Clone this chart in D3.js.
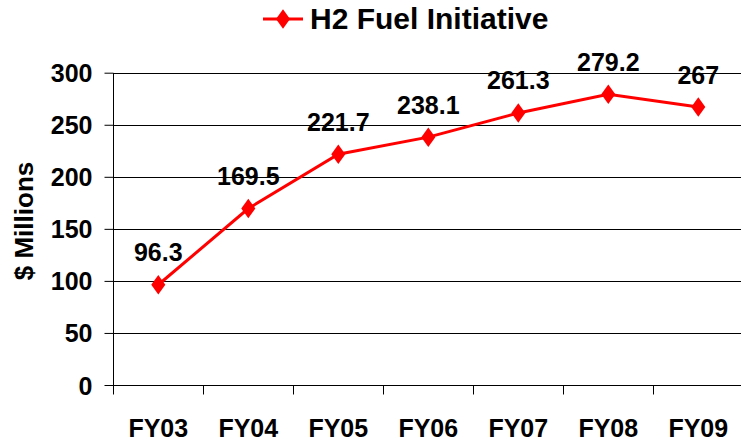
<!DOCTYPE html>
<html>
<head>
<meta charset="utf-8">
<script src="https://cdn.jsdelivr.net/npm/d3@7"></script>
<style>
html,body{margin:0;padding:0;background:#fff;}
text{font-family:"Liberation Sans",Arial,sans-serif;font-weight:bold;fill:#000;}
</style>
</head>
<body>
<svg id="chart" width="741" height="441"></svg>
<script>
const categories = ["FY03","FY04","FY05","FY06","FY07","FY08","FY09"];
const values = [96.3,169.5,221.7,238.1,261.3,279.2,267];
const valueLabels = ["96.3","169.5","221.7","238.1","261.3","279.2","267"];
const yTicks = [0,50,100,150,200,250,300];
const seriesName = "H2 Fuel Initiative";
const yTitle = "$ Millions";

const svg = d3.select("#chart");
const pL = 113.3, pR = 743.3, pT = 72.7, pB = 385;
const x = d3.scaleBand().domain(categories).range([pL, pR]).padding(0);
const y = d3.scaleLinear().domain([0,300]).range([pB, pT]);

// gridlines
svg.append("g").selectAll("line").data(yTicks).join("line")
  .attr("x1", pL).attr("x2", 741)
  .attr("y1", d => Math.round(y(d)) + 0.5).attr("y2", d => Math.round(y(d)) + 0.5)
  .attr("stroke", "#000").attr("stroke-width", 1);

// y axis
const yAxis = d3.axisLeft(y).tickValues(yTicks).tickSize(9).tickPadding(12);
const gy = svg.append("g").attr("transform", `translate(${Math.round(pL)+0.5},0)`).call(yAxis);
gy.select(".domain").attr("d", `M0,${Math.round(pT)}V${pB+9}`).attr("stroke","#000");
gy.selectAll(".tick line").attr("stroke","#000");
gy.selectAll(".tick text").style("font-size","25px").attr("dy","0.36em").attr("x",-21);

// x axis
const gx = svg.append("g").attr("transform", `translate(0,${pB+0.5})`);
gx.append("line").attr("x1", pL).attr("x2", 741).attr("y1",0).attr("y2",0).attr("stroke","#000");
const tickPos = categories.map(c => x(c)).concat([pR]);
gx.selectAll("line.t").data(tickPos).join("line").attr("class","t")
  .attr("x1", d=>Math.round(d)+0.5).attr("x2", d=>Math.round(d)+0.5)
  .attr("y1",0).attr("y2",9).attr("stroke","#000");
gx.selectAll("text").data(categories).join("text")
  .attr("x", d => x(d) + x.bandwidth()/2).attr("y", 51)
  .attr("text-anchor","middle").style("font-size","25px").text(d=>d);

// y title
svg.append("text").attr("transform","translate(33,221) rotate(-90)")
  .attr("text-anchor","middle").style("font-size","26px").text(yTitle);

// line
const pts = categories.map((c,i)=>({c, v: values[i], l: valueLabels[i]}));
const line = d3.line().x(d => x(d.c) + x.bandwidth()/2).y(d => y(d.v));
svg.append("path").datum(pts).attr("d", line)
  .attr("fill","none").attr("stroke","#ff0000").attr("stroke-width",3);

const diamond = d3.symbol().type(d3.symbolDiamond).size(110);
svg.selectAll("path.m").data(pts).join("path").attr("class","m")
  .attr("d", diamond)
  .attr("transform", d => `translate(${x(d.c)+x.bandwidth()/2},${y(d.v)}) scale(1.25,1)`)
  .attr("fill","#ff0000");

svg.selectAll("text.lab").data(pts).join("text").attr("class","lab")
  .attr("x", d => x(d.c)+x.bandwidth()/2).attr("y", d => y(d.v) - 23.5)
  .attr("text-anchor","middle").style("font-size","25px").text(d=>d.l);

// legend / title
const lg = svg.append("g");
lg.append("line").attr("x1",263).attr("x2",303).attr("y1",19).attr("y2",19)
  .attr("stroke","#ff0000").attr("stroke-width",3);
lg.append("path").attr("d", diamond).attr("transform","translate(283,19) scale(1.25,1)").attr("fill","#ff0000");
lg.append("text").attr("x",310).attr("y",29).style("font-size","30px").text(seriesName);
</script>
</body>
</html>
